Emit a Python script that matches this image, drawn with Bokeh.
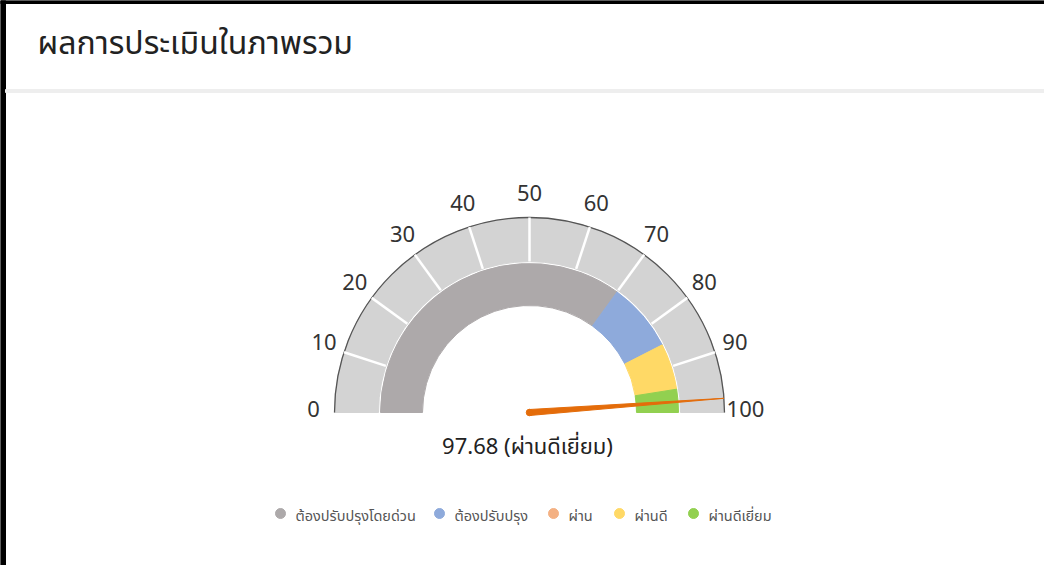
import math
from bokeh.plotting import figure
from bokeh.embed import file_html
from bokeh.resources import INLINE
from bokeh.core.properties import value

# ---- data ----
title_text = "ผลการประเมินในภาพรวม"
score = 97.68
score_label = "ผ่านดีเยี่ยม"
band_names = ["ต้องปรับปรุงโดยด่วน", "ต้องปรับปรุง", "ผ่าน", "ผ่านดี", "ผ่านดีเยี่ยม"]
band_from = [0, 70, 85, 85, 95]
band_to = [70, 85, 85, 95, 100]
band_colors = ["#ADA9AA", "#8EAADB", "#F4B183", "#FFD966", "#92D050"]
tick_values = [0, 10, 20, 30, 40, 50, 60, 70, 80, 90, 100]
gauge_min, gauge_max = 0, 100

# ---- layout (pixels; gauge centre at 0,0) ----
W, H = 1044, 565
x0, y1 = -529, 412
FONT = "Noto Sans Thai"

p = figure(width=W, height=H, output_backend="svg", toolbar_location=None,
           x_range=(x0, x0 + W), y_range=(y1 - H, y1), min_border=0)
p.axis.visible = False
p.grid.visible = False
p.outline_line_color = None
p.background_fill_color = "white"
p.border_fill_color = "white"


def ang(v):
    return math.pi * (1 - (v - gauge_min) / (gauge_max - gauge_min))


# frame decorations
p.quad(left=x0, right=x0 + 5, bottom=y1 - H, top=y1, color="black")
p.quad(left=x0, right=x0 + W, bottom=y1 - 3, top=y1, color="black")
p.quad(left=x0 + 5, right=x0 + W, bottom=y1 - 92, top=y1 - 89, color="#EEEEEE")

p.text(x=[x0 + 37], y=[y1 - 43], text=[title_text], text_font=value(FONT),
       text_font_size="32px", text_color="#222222", text_baseline="alphabetic",
       text_align="left")

# outer scale band
R_in, R_out = 151, 195
p.annular_wedge(x=0, y=0, inner_radius=R_in, outer_radius=R_out,
                start_angle=ang(gauge_max), end_angle=ang(gauge_min),
                color="#D3D3D3")
p.arc(x=0, y=0, radius=R_out, start_angle=ang(gauge_max), end_angle=ang(gauge_min),
      line_color="#555555", line_width=1.3)
inner_ticks = tick_values[1:-1]
p.segment(x0=[R_in * math.cos(ang(t)) for t in inner_ticks],
          y0=[R_in * math.sin(ang(t)) for t in inner_ticks],
          x1=[R_out * math.cos(ang(t)) for t in inner_ticks],
          y1=[R_out * math.sin(ang(t)) for t in inner_ticks],
          line_color="white", line_width=2.5)

# inner coloured bands
r_in2, r_out2 = 107, 149
for f, t, c in zip(band_from, band_to, band_colors):
    if t > f:
        p.annular_wedge(x=0, y=0, inner_radius=r_in2, outer_radius=r_out2,
                        start_angle=ang(t), end_angle=ang(f), color=c)

# tick labels
R_lab = 216
p.text(x=[R_lab * math.cos(ang(t)) for t in tick_values],
       y=[R_lab * math.sin(ang(t)) + 4 for t in tick_values],
       text=[str(t) for t in tick_values], text_font=value(FONT),
       text_font_size="22px", text_color="#333333",
       text_align="center", text_baseline="middle")

# needle
a = ang(score)
hw = 3.0
p.patch(x=[hw * math.sin(a), R_out * math.cos(a), -hw * math.sin(a)],
        y=[-hw * math.cos(a), R_out * math.sin(a), hw * math.cos(a)],
        color="#E46C0A")
p.scatter(x=[0], y=[0], size=6.5, color="#E46C0A")

# value label
p.text(x=[-2], y=[-35], text=[f"{score:.2f} ({score_label})"],
       text_font=value(FONT), text_font_size="22px", text_color="#222222",
       text_align="center", text_baseline="middle")

# legend
leg_x = [-249, -90, 24, 90, 164]
p.scatter(x=leg_x, y=[-101] * len(leg_x), size=10, color=band_colors)
p.text(x=[x + 15 for x in leg_x], y=[-104] * len(leg_x), text=band_names,
       text_font=value(FONT), text_font_size="14.5px", text_color="#555555",
       text_align="left", text_baseline="middle")

open("out.html", "w").write(file_html(p, INLINE))
